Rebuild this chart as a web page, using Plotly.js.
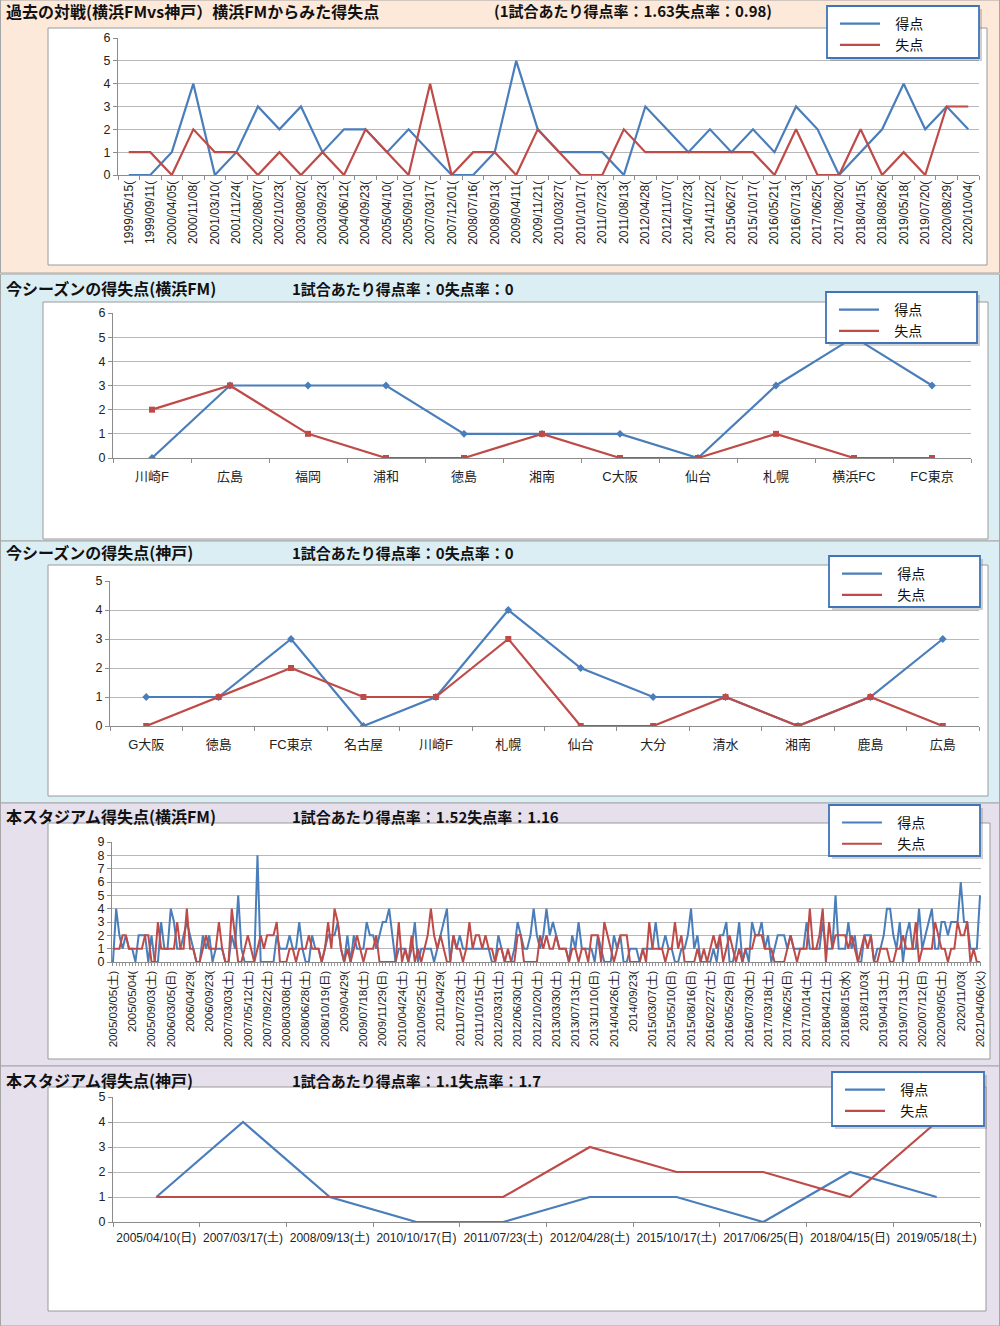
<!DOCTYPE html>
<html>
<head>
<meta charset="utf-8">
<script src="https://cdn.plot.ly/plotly-3.0.1.min.js"></script>
<style>html,body{margin:0;padding:0;background:#fff}#chart{width:1000px;height:1326px}</style>
</head>
<body>
<div id="chart"></div>
<script>
// ---------- Panel 1: 過去の対戦 ----------
const pastMatchDates = ['1999/05/15(','1999/09/11(','2000/04/05(','2000/11/08(','2001/03/10(','2001/11/24(','2002/08/07(','2002/10/23(','2003/08/02(','2003/09/23(','2004/06/12(','2004/09/23(','2005/04/10(','2005/09/10(','2007/03/17(','2007/12/01(','2008/07/16(','2008/09/13(','2009/04/11(','2009/11/21(','2010/03/27(','2010/10/17(','2011/07/23(','2011/08/13(','2012/04/28(','2012/11/07(','2014/07/23(','2014/11/22(','2015/06/27(','2015/10/17(','2016/05/21(','2016/07/13(','2017/06/25(','2017/08/20(','2018/04/15(','2018/08/26(','2019/05/18(','2019/07/20(','2020/08/29(','2020/10/04('];
const pastScored    = [0,0,1,4,0,1,3,2,3,1,2,2,1,2,1,0,0,1,5,2,1,1,1,0,3,2,1,2,1,2,1,3,2,0,1,2,4,2,3,2];
const pastConceded  = [1,1,0,2,1,1,0,1,0,1,0,2,1,0,4,0,1,1,0,2,1,0,0,2,1,1,1,1,1,1,0,2,0,0,2,0,1,0,3,3];

// ---------- Panel 2: 今シーズン(横浜FM) ----------
const fmSeasonTeams    = ['川崎F','広島','福岡','浦和','徳島','湘南','C大阪','仙台','札幌','横浜FC','FC東京'];
const fmSeasonScored   = [0,3,3,3,1,1,1,0,3,5,3];
const fmSeasonConceded = [2,3,1,0,0,1,0,0,1,0,0];

// ---------- Panel 3: 今シーズン(神戸) ----------
const kobeSeasonTeams    = ['G大阪','徳島','FC東京','名古屋','川崎F','札幌','仙台','大分','清水','湘南','鹿島','広島'];
const kobeSeasonScored   = [1,1,3,0,1,4,2,1,1,0,1,3];
const kobeSeasonConceded = [0,1,2,1,1,3,0,0,1,0,1,0];

// ---------- Panel 4: 本スタジアム(横浜FM) ----------
const fmStadiumTickLabels = ['2005/03/05(土)','2005/05/04(','2005/09/03(土)','2006/03/05(日)','2006/04/29(','2006/09/23(','2007/03/03(土)','2007/05/12(土)','2007/09/22(土)','2008/03/08(土)','2008/06/28(土)','2008/10/19(日)','2009/04/29(','2009/07/18(土)','2009/11/29(日)','2010/04/24(土)','2010/09/25(土)','2011/04/29(','2011/07/23(土)','2011/10/15(土)','2012/03/31(土)','2012/06/30(土)','2012/10/20(土)','2013/03/30(土)','2013/07/13(土)','2013/11/10(日)','2014/04/26(土)','2014/09/23(','2015/03/07(土)','2015/05/10(日)','2015/08/16(日)','2016/02/27(土)','2016/05/29(日)','2016/07/30(土)','2017/03/18(土)','2017/06/25(日)','2017/10/14(土)','2018/04/21(土)','2018/08/15(水)','2018/11/03(','2019/04/13(土)','2019/07/13(土)','2020/07/12(日)','2020/09/05(土)','2020/11/03(','2021/04/06(火)'];
const fmStadiumScored = [
  0,4,2,1,2,1,1,0,2,2, 2,0,2,0,0,3,1,1,4,3, 1,1,2,3,2,1,0,0,2,1, 2,0,1,1,1,0,0,2,1,5, 1,0,0,0,0,8,
  0,0,0,0,0,2,1,1,1,2, 1,1,3,1,0,0,2,1,1,0, 1,2,2,2,3,1,0,2,0,2, 1,1,1,3,2,2,1,2,3,3, 4,2,0,1,1,1,
  0,1,3,0,1,1,1,1,0,1, 2,3,4,0,2,1,2,1,1,1, 1,1,1,1,1,1,0,0,2,1, 0,0,0,1,3,2,1,1,2,4, 2,1,2,4,2,3,2,
  1,1,1,0,2,1,3,1,1,1, 1,0,2,1,0,0,0,2,1,2, 0,0,1,1,1,0,1,1,1,1, 3,1,1,2,1,1,0,0,1,1, 2,4,1,2,0,0,0,
  0,1,0,2,2,3,0,0,1,3, 0,1,0,3,2,2,3,1,2,0, 1,2,2,2,1,2,1,1,1,1, 3,1,1,1,1,3,1,1,1,5, 1,1,1,3,1,2,0,
  0,2,2,2,0,1,1,2,4,4, 2,1,3,0,2,3,1,1,4,1, 2,3,4,1,1,3,3,2,3,3, 3,6,3,3,1,1,1,5
];
const fmStadiumConceded = [
  1,1,1,2,2,1,1,1,1,1, 2,2,0,0,3,1,1,1,1,1, 3,1,1,4,1,1,0,0,1,2, 1,1,1,3,1,0,0,4,2,0, 0,1,2,1,0,1,
  2,1,2,2,2,3,0,0,0,1, 1,0,1,1,1,2,1,1,1,0, 1,3,1,4,3,1,0,1,0,1, 2,1,0,1,1,1,2,0,0,0, 0,0,0,3,0,1,
  0,2,0,1,0,1,2,4,2,1, 2,1,0,0,2,1,1,0,1,3, 1,2,2,1,2,1,1,0,1,1, 0,1,0,0,2,2,0,0,0,0, 0,2,1,2,1,1,2,
  1,1,1,0,1,1,0,1,1,0, 2,2,2,0,3,2,1,0,1,2, 2,2,0,0,0,0,1,0,3,1, 1,1,1,0,1,1,3,1,2,0, 0,0,0,1,0,1,0,
  1,2,1,2,0,1,2,1,0,1, 0,1,1,1,2,2,2,1,1,1, 0,0,0,0,1,2,1,0,1,1, 1,4,1,1,2,4,0,3,1,2, 2,2,2,1,2,1,0,
  1,2,1,2,0,0,1,1,1,0, 0,1,1,2,1,1,1,3,0,1, 1,1,1,3,2,1,1,0,1,1, 3,2,2,3,0,1,0,0
];
const fmStadiumLabelStep = 6;

// ---------- Panel 5: 本スタジアム(神戸) ----------
const kobeStadiumDates    = ['2005/04/10(日)','2007/03/17(土)','2008/09/13(土)','2010/10/17(日)','2011/07/23(土)','2012/04/28(土)','2015/10/17(土)','2017/06/25(日)','2018/04/15(日)','2019/05/18(土)'];
const kobeStadiumScored   = [1,4,1,0,0,1,1,0,2,1];
const kobeStadiumConceded = [1,1,1,1,1,3,2,2,1,4];

// ---------- texts ----------
const seriesNames = ['得点','失点'];
const panelTitles = ['過去の対戦(横浜FMvs神戸）横浜FMからみた得失点','今シーズンの得失点(横浜FM)','今シーズンの得失点(神戸)','本スタジアム得失点(横浜FM)','本スタジアム得失点(神戸)'];
const panelRates  = ['(1試合あたり得点率：1.63失点率：0.98)','1試合あたり得点率：0失点率：0','1試合あたり得点率：0失点率：0','1試合あたり得点率：1.52失点率：1.16','1試合あたり得点率：1.1失点率：1.7'];

// ---------- styling ----------
const W = 1000, H = 1326;
const px = v => v / W;
const py = v => 1 - v / H;
const BLUE = '#4A7EBB', RED = '#BE4B48';
const FONT = '"Liberation Sans", "Noto Sans CJK JP", sans-serif';
const JP = '"Noto Sans CJK JP", "Liberation Sans", sans-serif';
const LEG_PAD = '\u2002\u00a0';

// panel geometry (pixels)
const geo = [
  {x0:118, x1:979, yt:38,  yb:175,  ymax:6, sec:[0,273],    bg:'#FDE9D9', box:[48,28,987,265],   leg:[827,6,979,58],     titleY:11,   rateX:492},
  {x0:113, x1:971, yt:313, yb:458,  ymax:6, sec:[274,541],  bg:'#DBEEF4', box:[43,302,988,539],  leg:[826,292,977,343],  titleY:288,  rateX:290},
  {x0:110, x1:979, yt:581, yb:726,  ymax:5, sec:[541,803],  bg:'#DBEEF4', box:[48,565,988,796],  leg:[829,556,980,607],  titleY:552,  rateX:290},
  {x0:112, x1:981, yt:842, yb:962,  ymax:9, sec:[803,1066], bg:'#E5E0EC', box:[48,823,990,1059], leg:[829,805,980,856],  titleY:816,  rateX:290},
  {x0:113, x1:980, yt:1097,yb:1222, ymax:5, sec:[1066,1326],bg:'#E5E0EC', box:[48,1087,986,1311],leg:[832,1072,984,1126],titleY:1080, rateX:290}
];

const traces = [];
function lineTrace(x, y, color, name, k, showleg) {
  return {x:x, y:y, type:'scatter', mode:'lines', name:LEG_PAD + name,
    line:{color:color, width:2.2}, xaxis:'x'+(k===1?'':k), yaxis:'y'+(k===1?'':k),
    legend: k===1 ? 'legend' : 'legend'+k, showlegend:showleg, hoverinfo:'skip'};
}
// panel 1
traces.push(lineTrace(pastMatchDates, pastScored, BLUE, seriesNames[0], 1, true));
traces.push(lineTrace(pastMatchDates, pastConceded, RED, seriesNames[1], 1, true));
// panel 2
traces.push(lineTrace(fmSeasonTeams, fmSeasonScored, BLUE, seriesNames[0], 2, true));
traces.push(lineTrace(fmSeasonTeams, fmSeasonConceded, RED, seriesNames[1], 2, true));
traces.push({x:fmSeasonTeams, y:fmSeasonScored, type:'scatter', mode:'markers', xaxis:'x2', yaxis:'y2', showlegend:false, marker:{symbol:'diamond', size:6, color:BLUE}, hoverinfo:'skip'});
traces.push({x:fmSeasonTeams, y:fmSeasonConceded, type:'scatter', mode:'markers', xaxis:'x2', yaxis:'y2', showlegend:false, marker:{symbol:'square', size:6, color:RED}, hoverinfo:'skip'});
// panel 3
traces.push(lineTrace(kobeSeasonTeams, kobeSeasonScored, BLUE, seriesNames[0], 3, true));
traces.push(lineTrace(kobeSeasonTeams, kobeSeasonConceded, RED, seriesNames[1], 3, true));
traces.push({x:kobeSeasonTeams, y:kobeSeasonScored, type:'scatter', mode:'markers', xaxis:'x3', yaxis:'y3', showlegend:false, marker:{symbol:'diamond', size:6, color:BLUE}, hoverinfo:'skip'});
traces.push({x:kobeSeasonTeams, y:kobeSeasonConceded, type:'scatter', mode:'markers', xaxis:'x3', yaxis:'y3', showlegend:false, marker:{symbol:'square', size:6, color:RED}, hoverinfo:'skip'});
// panel 4
const fmIdx = fmStadiumScored.map((_, i) => i);
const t4a = lineTrace(fmIdx, fmStadiumScored, BLUE, seriesNames[0], 4, true); t4a.line.width = 2;
const t4b = lineTrace(fmIdx, fmStadiumConceded, RED, seriesNames[1], 4, true); t4b.line.width = 2;
traces.push(t4a, t4b);
// panel 5
traces.push(lineTrace(kobeStadiumDates, kobeStadiumScored, BLUE, seriesNames[0], 5, true));
traces.push(lineTrace(kobeStadiumDates, kobeStadiumConceded, RED, seriesNames[1], 5, true));

const layout = {
  width: W, height: H, margin:{l:0,r:0,t:0,b:0},
  paper_bgcolor:'#ffffff', plot_bgcolor:'rgba(0,0,0,0)',
  font:{family:FONT, color:'#222', size:12},
  shapes:[], annotations:[]
};

const nCats = [pastMatchDates.length, fmSeasonTeams.length, kobeSeasonTeams.length, null, kobeStadiumDates.length];
const catTickFont = [12, 13, 13, 11.5, 12];

geo.forEach((g, i) => {
  const k = i + 1, sx = k === 1 ? '' : String(k);
  // section background
  layout.shapes.push({type:'rect', xref:'paper', yref:'paper', layer:'below',
    x0:px(0.5), x1:px(999.5), y0:py(g.sec[1]), y1:py(g.sec[0]),
    fillcolor:g.bg, line:{color:'#A6A6A6', width:1}});
  // white chart box
  layout.shapes.push({type:'rect', xref:'paper', yref:'paper', layer:'below',
    x0:px(g.box[0]), x1:px(g.box[2]), y0:py(g.box[3]), y1:py(g.box[1]),
    fillcolor:'#ffffff', line:{color:'#9A9A9A', width:1}});
  // legend shadow + frame
  layout.shapes.push({type:'rect', xref:'paper', yref:'paper', layer:'above',
    x0:px(g.leg[0]+3), x1:px(g.leg[2]+3), y0:py(g.leg[3]+3), y1:py(g.leg[1]+3),
    fillcolor:'rgba(120,120,120,0.35)', line:{width:0}});
  layout.shapes.push({type:'rect', xref:'paper', yref:'paper', layer:'above',
    x0:px(g.leg[0]), x1:px(g.leg[2]), y0:py(g.leg[3]), y1:py(g.leg[1]),
    fillcolor:'#ffffff', line:{color:'#3F74B8', width:1.8}});
  // titles
  layout.annotations.push({xref:'paper', yref:'paper', x:px(4), y:py(g.titleY), xanchor:'left', yanchor:'middle',
    text:panelTitles[i], showarrow:false, font:{family:JP, size:16, color:'#111', weight:700}});
  layout.annotations.push({xref:'paper', yref:'paper', x:px(g.rateX), y:py(g.titleY), xanchor:'left', yanchor:'middle',
    text:panelRates[i], showarrow:false, font:{family:JP, size:15, color:'#111', weight:700}});
  // legend
  layout['legend' + sx] = {x:px(g.leg[0]+8), y:py(g.leg[1]+2), xanchor:'left', yanchor:'top',
    bgcolor:'rgba(0,0,0,0)', borderwidth:0, font:{family:JP, size:14, color:'#111'},
    tracegroupgap:0, itemwidth:40, traceorder:'normal'};
  // axes
  const yax = {domain:[py(g.yb), py(g.yt)], anchor:'x'+sx, range:[0, g.ymax], dtick:1, tick0:0,
    showgrid:true, gridcolor:'#B8B8B8', gridwidth:1, zeroline:false,
    showline:true, linecolor:'#8C8C8C', linewidth:1, ticks:'outside', ticklen:4, tickcolor:'#8C8C8C',
    tickfont:{size:12.5, family:FONT, color:'#222'}, fixedrange:true};
  const xax = {domain:[px(g.x0), px(g.x1)], anchor:'y'+sx, showgrid:false, zeroline:false,
    showline:true, linecolor:'#8C8C8C', linewidth:1, ticks:'outside', ticklen:4, tickcolor:'#8C8C8C',
    tickfont:{size:catTickFont[i], family:FONT, color:'#222'}, fixedrange:true};
  if (k === 4) {
    const tv = fmStadiumTickLabels.map((_, j) => j * fmStadiumLabelStep);
    Object.assign(xax, {type:'linear', range:[-0.3, fmStadiumScored.length - 0.7], tickmode:'array',
      tickvals:tv, ticktext:fmStadiumTickLabels, tickangle:-90, ticklen:3,
      minor:{tickmode:'linear', tick0:0, dtick:1, ticks:'outside', ticklen:3, tickcolor:'#9A9A9A', showgrid:false}});
  } else {
    Object.assign(xax, {type:'category', range:[-0.5, nCats[i] - 0.5], tickson:'boundaries',
      tickangle: k === 1 ? -90 : 0});
    if (k === 2 || k === 3) { xax.ticklabelstandoff = 6; }
    if (k === 5) { xax.ticklabelstandoff = 5; }
  }
  layout['xaxis' + sx] = xax;
  layout['yaxis' + sx] = yax;
});

Plotly.newPlot('chart', traces, layout, {staticPlot:true, displayModeBar:false});
</script>
</body>
</html>
